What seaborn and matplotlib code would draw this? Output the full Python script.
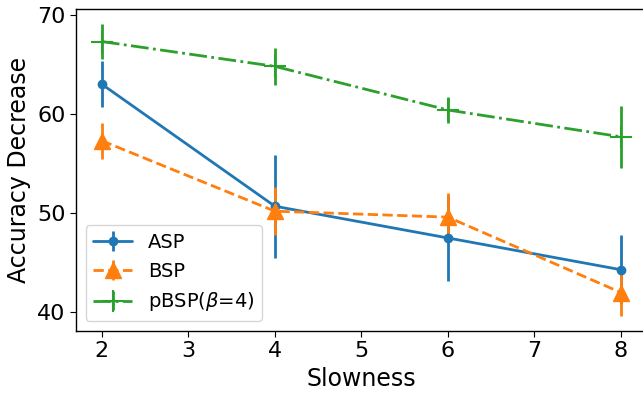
import matplotlib
matplotlib.use("Agg")
import matplotlib.pyplot as plt
import seaborn as sns

# data
slowness = [2, 4, 6, 8]
asp_mean = [63.0, 50.7, 47.5, 44.3]
asp_err = [2.3, 5.2, 4.3, 3.5]
bsp_mean = [57.3, 50.2, 49.6, 42.0]
bsp_err = [1.8, 2.4, 2.4, 2.4]
pbsp_mean = [67.3, 64.8, 60.4, 57.7]
pbsp_err = [1.8, 1.9, 1.3, 3.1]

sns.set_style("ticks", {
    "axes.edgecolor": "black",
    "text.color": "black",
    "axes.labelcolor": "black",
    "xtick.color": "black",
    "ytick.color": "black",
})
plt.rcParams["font.family"] = ["DejaVu Sans"]
plt.rcParams["axes.linewidth"] = 1.0
colors = sns.color_palette("tab10")

fig = plt.figure(figsize=(6.43, 3.94), dpi=100)
# axes runs past the right edge, like the cropped reference
ax = fig.add_axes([0.118, 0.160, 0.888, 0.817])

ax.errorbar(slowness, asp_mean, yerr=asp_err, color=colors[0], linestyle="-",
            marker="o", markersize=6, linewidth=2, label="ASP")
ax.errorbar(slowness, bsp_mean, yerr=bsp_err, color=colors[1], linestyle="--",
            marker="^", markersize=11, linewidth=2, label="BSP")
ax.errorbar(slowness, pbsp_mean, yerr=pbsp_err, color=colors[2], linestyle="-.",
            marker="+", markersize=16, markeredgewidth=1.5, linewidth=2,
            label=r"pBSP($\beta$=4)")

ax.set_xlabel("Slowness", fontsize=17)
ax.set_ylabel("Accuracy Decrease", fontsize=17)
ax.tick_params(labelsize=16, length=4)
ax.set_yticks([40, 50, 60, 70])
ax.legend(loc="lower left", fontsize=14)

fig.savefig("out.png", dpi=100)
